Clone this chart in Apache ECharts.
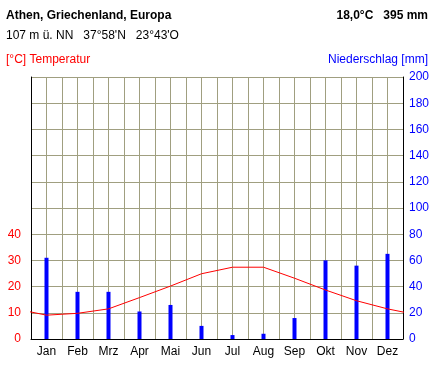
<!DOCTYPE html>
<html><head><meta charset="utf-8">
<script src="https://cdn.jsdelivr.net/npm/echarts@6/dist/echarts.min.js"></script>
<style>html,body{margin:0;padding:0;background:#fff}#c{width:437px;height:371px}</style>
</head><body><div id="c"></div>
<script>
const months = ['Jan','Feb','Mrz','Apr','Mai','Jun','Jul','Aug','Sep','Okt','Nov','Dez'];
const temperature = [9.1, 9.8, 11.5, 15.8, 20.2, 24.9, 27.4, 27.4, 23.2, 18.7, 14.6, 11.5];
const precipitation = [62, 36, 36, 21, 26, 10, 3, 4, 16, 60, 56, 65];
const tempTicks = [0, 10, 20, 30, 40];
const precTicks = [0, 20, 40, 60, 80, 100, 120, 140, 160, 180, 200];
const titleLeft = 'Athen, Griechenland, Europa';
const titleRight = '18,0°C   395 mm';
const subtitle = '107 m ü. NN   37°58\'N   23°43\'O';
const tempLabel = '[°C] Temperatur';
const precLabel = 'Niederschlag [mm]';

const font = 'Arial, "Liberation Sans", sans-serif';
// line wraps around: Dez before Jan and Jan after Dez, clipped to the grid
const lineData = [[-0.5, temperature[11]]]
  .concat(temperature.map((t, i) => [i + 0.5, t]))
  .concat([[12.5, temperature[0]]]);
const barData = precipitation.map((p, i) => [i + 0.5, p]);

const chart = echarts.init(document.getElementById('c'), null, {renderer: 'canvas'});
chart.setOption({
  animation: false,
  backgroundColor: '#fff',
  grid: {left: 31, right: 34, top: 77, bottom: 32, containLabel: false},
  xAxis: {
    type: 'value', min: 0, max: 12, interval: 0.5,
    axisLine: {show: true, onZero: false, lineStyle: {color: '#000', width: 1}},
    axisTick: {show: false},
    splitLine: {show: true, lineStyle: {color: '#a09f80', width: 1}},
    axisLabel: {
      color: '#000', fontFamily: font, fontSize: 12, margin: 7,
      formatter: v => (Math.round(v * 2) % 2 === 1 ? months[Math.floor(v)] : '')
    }
  },
  yAxis: [
    {
      type: 'value', min: 0, max: 100, interval: 10, position: 'left',
      axisLine: {show: true, lineStyle: {color: '#000', width: 1}},
      axisTick: {show: false},
      splitLine: {show: true, lineStyle: {color: '#a09f80', width: 1}},
      axisLabel: {color: '#ff0000', fontFamily: font, fontSize: 12, margin: 10,
        formatter: v => (tempTicks.indexOf(v) >= 0 ? String(v) : '')}
    },
    {
      type: 'value', min: 0, max: 200, interval: 20, position: 'right',
      axisLine: {show: true, lineStyle: {color: '#000', width: 1}},
      axisTick: {show: false},
      splitLine: {show: false},
      axisLabel: {color: '#0000ff', fontFamily: font, fontSize: 12, margin: 6,
        formatter: v => (precTicks.indexOf(v) >= 0 ? String(v) : '')}
    }
  ],
  series: [
    {
      type: 'bar', yAxisIndex: 1, data: barData, barWidth: 4,
      itemStyle: {color: '#0000ff'}, silent: true
    },
    {
      type: 'line', yAxisIndex: 0, data: lineData, clip: true,
      showSymbol: false, symbol: 'none',
      lineStyle: {color: '#ff0000', width: 1}, silent: true
    }
  ],
  graphic: [
    {type: 'text', left: 6, top: 10, style: {text: titleLeft, font: 'bold 12px ' + font, fill: '#000'}},
    {type: 'text', right: 9, top: 10, style: {text: titleRight, font: 'bold 12px ' + font, fill: '#000'}},
    {type: 'text', left: 6, top: 30, style: {text: subtitle, font: '12px ' + font, fill: '#000'}},
    {type: 'text', left: 6, top: 54, style: {text: tempLabel, font: '12px ' + font, fill: '#ff0000'}},
    {type: 'text', right: 9, top: 54, style: {text: precLabel, font: '12px ' + font, fill: '#0000ff'}}
  ]
});
</script></body></html>
